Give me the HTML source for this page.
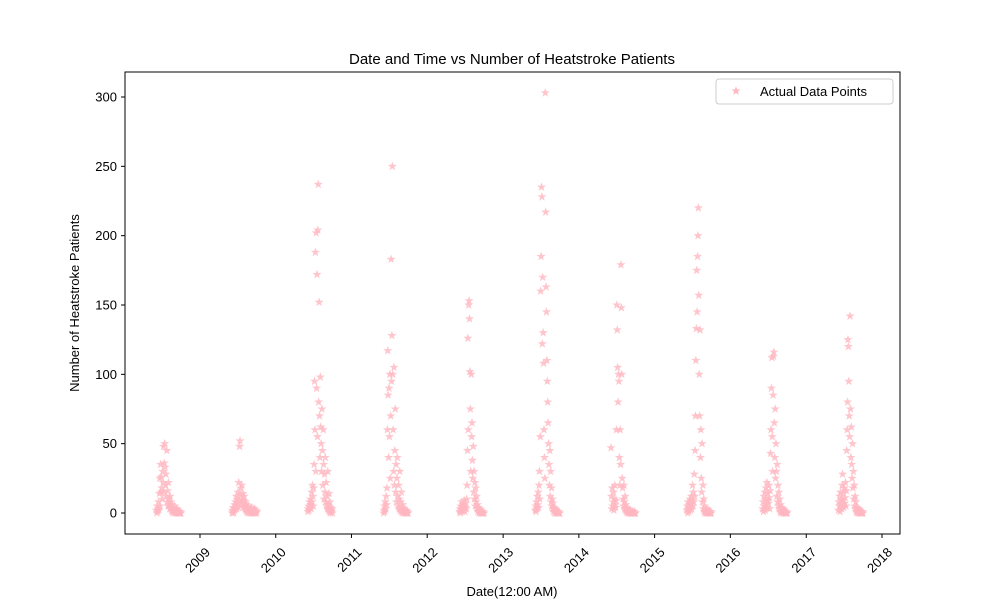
<!DOCTYPE html>
<html><head><meta charset="utf-8"><style>
body{margin:0;background:#fff;font-family:"Liberation Sans","DejaVu Sans",sans-serif;}
svg{display:block}
</style></head><body>
<svg id="chart" width="1000" height="600">
<rect x="0" y="0" width="1000" height="600" fill="#fff"/>
<text x="512" y="64" font-size="15" text-anchor="middle" fill="#000">Date and Time vs Number of Heatstroke Patients</text>
<text x="0" y="0" font-size="13" text-anchor="middle" transform="translate(79,303) rotate(-90)">Number of Heatstroke Patients</text>
<text x="512" y="596" font-size="13" text-anchor="middle">Date(12:00 AM)</text>
<g id="marks"></g>
<g id="axes"></g>
<rect x="125" y="72" width="775" height="462" fill="none" stroke="#000" stroke-width="1"/>
<g>
<rect x="716" y="79" width="177" height="25" fill="#fff" stroke="#ccc" rx="3"/>
<g id="legstar"></g>
<text x="760" y="96" font-size="13">Actual Data Points</text>
</g>
</svg>
<script>
const years = [2008,2009,2010,2011,2012,2013,2014,2015,2016,2017];
const startMonthDay = [6,5];
const stepDays = 2;
const v2008=[2,0,5,1,3,8,2,14,25,5,35,15,26,18,10,30,22,48,15,36,50,33,20,28,12,45,8,16,5,22,10,6,3,12,4,8,2,6,1,4,0,3,2,1,5,0,2,1,0,3,1,0,2,0,1,0,0,1,0,0];
const v2009=[0,2,1,4,0,3,6,2,8,5,12,3,10,7,15,4,22,9,48,52,13,18,6,20,10,7,14,4,9,12,5,3,8,2,6,1,4,0,3,2,5,1,0,2,3,1,0,4,1,0,2,0,1,3,0,1,0,2,0,1];
const v2010=[1,3,5,2,8,4,10,6,3,15,8,20,12,5,18,35,95,60,188,30,202,90,172,55,204,237,80,152,70,40,98,62,50,30,75,45,20,60,35,10,28,15,40,8,22,5,12,3,30,6,2,14,1,8,0,4,2,1,3,0];
const v2011=[0,2,5,1,8,3,12,6,18,60,117,85,40,90,55,100,25,70,183,95,128,250,100,60,30,105,20,45,75,15,35,8,25,40,12,5,20,3,10,30,2,8,1,15,4,0,6,2,1,3,0,2,0,1,0,2,0,1,0,0];
const v2012=[1,3,0,5,2,8,4,1,6,3,2,9,5,1,4,7,3,10,20,45,126,60,150,153,140,102,75,30,100,55,65,38,25,48,15,30,10,22,5,18,8,12,3,6,1,4,2,0,3,1,0,2,0,1,0,0,1,0,0,0];
const v2013=[2,5,1,8,3,12,6,15,4,20,30,10,55,160,185,235,228,122,170,130,108,60,40,25,303,217,163,145,110,95,80,65,50,35,20,45,12,30,8,18,5,10,3,7,1,4,2,0,3,1,0,2,0,1,0,0,1,0,0,0];
const v2014=[47,12,3,18,5,8,15,2,10,20,6,4,9,60,150,132,105,80,100,95,40,20,60,35,179,148,100,25,18,10,5,20,8,3,12,2,6,1,4,0,3,1,2,0,1,0,2,0,1,0,0,1,0,0,0,0,1,0,0,0];
const v2015=[2,5,0,8,3,1,6,4,10,2,7,12,3,9,20,5,15,8,28,12,45,70,110,133,175,145,185,200,220,157,100,70,132,40,60,25,15,50,8,20,3,10,1,5,0,2,1,0,3,0,1,0,2,0,1,0,0,1,0,0];
const v2016=[3,8,1,12,5,15,2,10,18,6,22,4,14,9,7,20,11,3,16,43,60,90,112,55,30,85,113,116,65,40,75,25,50,30,12,35,8,20,5,15,3,10,1,6,0,4,2,1,3,0,1,0,2,0,1,0,0,1,0,0];
const v2017=[2,8,5,12,1,15,6,10,3,20,28,9,14,4,18,7,11,22,5,16,45,60,80,125,120,95,70,55,142,75,40,62,35,25,50,18,30,10,20,5,12,3,8,1,4,0,2,1,3,0,1,0,2,0,1,0,0,1,0,0];
const seriesValues=[v2008,v2009,v2010,v2011,v2012,v2013,v2014,v2015,v2016,v2017];
const yTicks=[0,50,100,150,200,250,300];
const xTickYears=[2009,2010,2011,2012,2013,2014,2015,2016,2017,2018];

const NS="http://www.w3.org/2000/svg";
const t0=Date.UTC(2009,0,1), t1=Date.UTC(2018,0,1);
function xScale(t){return 200+(t-t0)/(t1-t0)*682;}
function yScale(v){return 513-v*(416/300);}
function starPath(cx,cy,r){
  let d="";
  for(let i=0;i<10;i++){
    const rr=i%2?r*0.4:r, a=-Math.PI/2+i*Math.PI/5;
    d+=(i?"L":"M")+(cx+rr*Math.cos(a)).toFixed(2)+","+(cy+rr*Math.sin(a)).toFixed(2);
  }
  return d+"Z";
}
const marks=document.getElementById('marks');
years.forEach((yr,k)=>{
  const start=Date.UTC(yr,startMonthDay[0]-1,startMonthDay[1]);
  seriesValues[k].forEach((v,i)=>{
    const p=document.createElementNS(NS,'path');
    p.setAttribute('d',starPath(xScale(start+i*stepDays*86400000),yScale(v),4.8));
    p.setAttribute('fill','#ffb6c1');
    p.setAttribute('fill-opacity','0.8');
    
    
    marks.appendChild(p);
  });
});
const axes=document.getElementById('axes');
yTicks.forEach(v=>{
  const y=yScale(v);
  const l=document.createElementNS(NS,'line');
  l.setAttribute('x1',121);l.setAttribute('x2',125);l.setAttribute('y1',y);l.setAttribute('y2',y);
  l.setAttribute('stroke','#000');
  
  
  axes.appendChild(l);
  const t=document.createElementNS(NS,'text');
  t.setAttribute('x',117);t.setAttribute('y',y+4.5);t.setAttribute('font-size','13');t.setAttribute('text-anchor','end');
  t.textContent=v;
  
  
  axes.appendChild(t);
});
xTickYears.forEach(yr=>{
  const x=xScale(Date.UTC(yr,0,1));
  const l=document.createElementNS(NS,'line');
  l.setAttribute('x1',x);l.setAttribute('x2',x);l.setAttribute('y1',534);l.setAttribute('y2',538);
  l.setAttribute('stroke','#000');
  
  
  axes.appendChild(l);
  const t=document.createElementNS(NS,'text');
  t.setAttribute('x',0);t.setAttribute('y',0);t.setAttribute('font-size','13');t.setAttribute('text-anchor','end');
  t.setAttribute('transform','translate('+(x+11)+',553) rotate(-45)');
  t.textContent=yr;
  
  
  axes.appendChild(t);
});
const ls=document.createElementNS(NS,'path');
ls.setAttribute('d',starPath(736,91,4.8));
ls.setAttribute('fill','#ffb6c1');


document.getElementById('legstar').appendChild(ls);
</script>
</body></html>
